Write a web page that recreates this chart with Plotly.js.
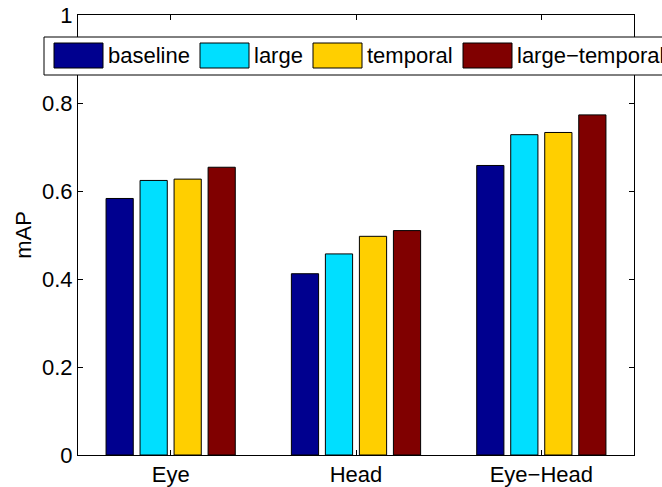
<!DOCTYPE html>
<html>
<head>
<meta charset="utf-8">
<script src="https://cdn.plot.ly/plotly-3.0.1.min.js"></script>
<style>
html,body{margin:0;padding:0;background:#fff;}
#chart{width:662px;height:487px;}
</style>
</head>
<body>
<div id="chart"></div>
<script>
// ---- data ----
const categories = ['Eye', 'Head', 'Eye\u2212Head'];
const seriesNames = ['baseline', 'large', 'temporal', 'large\u2212temporal'];
const baseline = [0.583, 0.412, 0.658];
const large = [0.624, 0.457, 0.728];
const temporal = [0.627, 0.497, 0.733];
const largeTemporal = [0.654, 0.510, 0.773];
const yTickVals = [0, 0.2, 0.4, 0.6, 0.8, 1];
const yTickText = ['0', '0.2', '0.4', '0.6', '0.8', '1'];

// ---- styling ----
const seriesValues = [baseline, large, temporal, largeTemporal];
const colors = ['#00008F', '#00DFFF', '#FFCF00', '#800000'];
const FONT = 'Liberation Sans, Arial, Helvetica, sans-serif';
const FS = 22;
const W = 662, H = 487;
const M = {l: 78, r: 28, t: 15, b: 32};
const PW = W - M.l - M.r, PH = H - M.t - M.b;
const px = x => (x - M.l) / PW;
const py = y => (H - M.b - y) / PH;

const traces = seriesValues.map((vals, i) => ({
  type: 'bar',
  name: seriesNames[i],
  x: categories,
  y: vals,
  marker: {color: colors[i], line: {color: '#000', width: 1}},
  showlegend: false,
  hoverinfo: 'skip'
}));

// custom MATLAB-style legend (pixel layout); the box runs past the right edge as in the reference
const swatchX = [54, 200, 313, 463];
const swatchW = 49;
const shapes = [{
  type: 'rect', xref: 'paper', yref: 'paper',
  x0: px(44), x1: px(720), y0: py(75), y1: py(37),
  fillcolor: '#fff', line: {color: '#000', width: 1}, layer: 'above'
}];
const annotations = [];
seriesNames.forEach((n, i) => {
  shapes.push({
    type: 'rect', xref: 'paper', yref: 'paper',
    x0: px(swatchX[i]), x1: px(swatchX[i] + swatchW), y0: py(68), y1: py(43),
    fillcolor: colors[i], line: {color: '#000', width: 1}, layer: 'above'
  });
  annotations.push({
    xref: 'paper', yref: 'paper', x: px(swatchX[i] + swatchW + 3), y: py(56),
    xanchor: 'left', yanchor: 'middle', text: n, showarrow: false,
    font: {family: FONT, size: FS, color: '#000'}
  });
});

const layout = {
  width: W, height: H,
  margin: M,
  paper_bgcolor: '#fff', plot_bgcolor: '#fff',
  font: {family: FONT, size: FS, color: '#000'},
  barmode: 'group',
  bargap: 0.266,
  bargroupgap: 0.2,
  xaxis: {
    type: 'category', range: [-0.5, 2.5],
    showline: true, linecolor: '#000', linewidth: 1, mirror: 'ticks',
    ticks: 'inside', ticklen: 5, tickcolor: '#000',
    showgrid: false, zeroline: false, automargin: false,
    tickfont: {family: FONT, size: FS, color: '#000'}
  },
  yaxis: {
    range: [0, 1], tickvals: yTickVals, ticktext: yTickText,
    showline: true, linecolor: '#000', linewidth: 1, mirror: 'ticks',
    ticks: 'inside', ticklen: 5, tickcolor: '#000',
    showgrid: false, zeroline: false, automargin: false,
    tickfont: {family: FONT, size: FS, color: '#000'},
    title: {text: 'mAP', standoff: 4, font: {family: FONT, size: FS, color: '#000'}}
  },
  shapes: shapes,
  annotations: annotations
};

Plotly.newPlot('chart', traces, layout, {displayModeBar: false, staticPlot: true});
</script>
</body>
</html>
